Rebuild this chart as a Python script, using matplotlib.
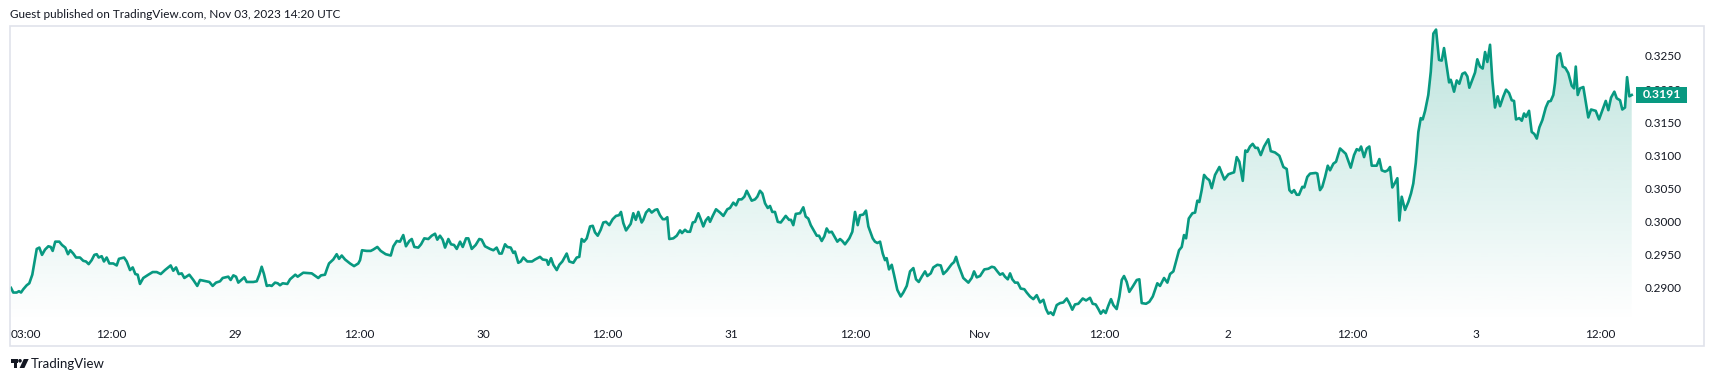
import numpy as np
import pandas as pd
import matplotlib
matplotlib.use("Agg")
import matplotlib.pyplot as plt
import matplotlib.dates as mdates
from matplotlib.patches import Rectangle, Polygon, Circle
from matplotlib.transforms import Affine2D, blended_transform_factory

plt.rcParams["font.family"] = ["Lato", "DejaVu Sans"]

# hours after 2023-10-28 00:00 UTC
hours = [
    2.34, 2.56, 2.89, 3.11, 3.31, 3.53, 3.86, 4.11, 4.40, 4.83,
    5.08, 5.34, 5.63, 5.95, 6.18, 6.37, 6.62, 7.01, 7.27, 7.59,
    7.85, 8.07, 8.36, 8.63, 9.01, 9.33, 9.59, 9.85, 10.14, 10.40,
    10.63, 10.82, 11.11, 11.33, 11.59, 11.85, 12.23, 12.56, 12.78, 13.27,
    13.53, 13.85, 14.11, 14.36, 14.59, 14.81, 15.13, 15.62, 16.04, 16.43,
    16.82, 17.23, 17.78, 18.03, 18.30, 18.56, 18.85, 19.10, 19.58, 19.97,
    20.35, 20.62, 20.93, 21.52, 21.84, 22.16, 22.55, 22.81, 23.35, 23.58,
    23.84, 24.10, 24.32, 24.90, 25.13, 25.77, 26.10, 26.35, 26.58, 26.80,
    27.07, 27.32, 27.55, 27.87, 28.13, 28.35, 28.61, 29.06, 29.32, 29.83,
    30.06, 30.60, 31.42, 32.05, 32.32, 32.70, 32.92,
    33.09, 33.50, 33.83, 34.06, 34.32, 34.64, 35.12, 35.51, 35.92, 36.09,
    36.28, 36.73, 37.12, 37.37, 37.76, 38.09, 38.57, 39.06, 39.31, 39.64,
    39.95, 40.27, 40.53, 40.85, 41.09, 41.34, 41.72, 41.99, 42.30, 42.69,
    43.02, 43.34, 43.56, 43.82, 44.08, 44.31, 44.63, 44.89, 45.18, 45.44,
    45.76, 46.02, 46.34, 46.56, 46.89, 47.27, 47.62, 47.85, 48.17, 48.66,
    48.98, 49.30, 49.56, 49.79, 50.11, 50.33, 50.66, 50.91, 51.07, 51.39,
    51.63, 51.88, 52.26, 52.72, 53.01, 53.49, 53.75, 54.14, 54.29, 54.56,
    54.78, 55.11, 55.36, 55.65, 56.07, 56.32, 56.71, 57.04, 57.29, 57.52,
    57.75, 58.01, 58.33, 58.59, 58.81, 59.07, 59.36, 59.61, 59.87, 60.19,
    60.52, 60.84, 61.13, 61.32, 61.55, 61.81, 62.26, 62.51, 62.75, 63.00,
    63.32, 63.48, 63.74, 64.03, 64.29, 64.61, 64.83, 65.09, 65.36, 65.58,
    65.80, 65.99, 66.38, 66.71, 67.03, 67.22, 67.51, 67.73, 68.00, 68.26,
    68.48, 68.80, 69.03, 69.28, 69.51, 69.77, 69.93, 70.19, 70.51, 70.90,
    71.22, 71.60, 71.86, 72.18, 72.44, 72.70, 72.99, 73.25, 73.48, 73.73,
    73.96, 74.28, 74.50, 74.76, 74.99, 75.25, 75.51, 75.73, 75.95, 76.21,
    76.48, 76.77, 77.25, 77.57, 77.76, 77.98, 78.22, 78.63, 78.95, 79.18,
    79.43, 79.67, 79.92, 80.25, 80.47, 80.73, 80.98, 81.21, 81.44, 81.70,
    81.95, 82.24, 82.50, 82.72, 82.98, 83.40, 83.69, 83.95, 84.21, 84.43,
    84.75, 85.01, 85.24, 85.66, 85.88, 86.11, 86.37, 86.63, 86.85, 87.01,
    87.24, 87.50, 87.72, 88.04, 88.37, 88.62, 88.95, 89.27, 89.59, 89.85,
    90.11, 90.40, 90.72, 90.94, 91.27, 91.52, 91.91, 92.24, 92.49, 92.82,
    93.30, 93.52, 93.72, 93.94,
    94.42, 94.91, 95.23, 95.46, 95.72, 96.04, 96.45, 96.84, 97.17, 97.42,
    97.71, 97.97, 98.23, 98.45, 98.72, 98.94, 99.16, 99.42, 99.68, 99.97,
    100.32, 100.55, 100.87, 101.19, 101.52, 101.84, 102.16, 102.42, 102.64, 102.87,
    103.12, 103.45, 103.77, 104.09, 104.42, 104.67, 104.96, 105.22, 105.54, 105.97,
    106.29, 106.67, 106.93, 107.22, 107.48, 107.71, 107.96, 108.19, 108.44, 108.70,
    108.93, 109.25, 109.51, 109.74, 109.96, 110.22, 110.47, 110.80, 111.19, 111.44,
    111.67, 112.09, 112.41, 112.74, 113.18, 113.44, 113.83, 114.15, 114.41, 114.73,
    114.99, 115.28, 115.54, 115.76, 115.96, 116.22, 116.57, 116.83, 117.05, 117.24,
    117.47, 117.70, 117.96, 118.21, 118.44, 118.76, 119.18, 119.66, 120.05, 120.60,
    120.86, 121.11, 121.44, 121.69, 121.88, 122.14, 122.40, 122.66, 122.89, 123.18,
    123.50, 123.91, 124.15, 124.56, 124.98,
    125.37, 125.69, 125.95, 126.18, 126.40, 126.66, 126.88, 127.20, 127.39, 127.68,
    127.95, 128.50, 128.65, 128.91, 129.13, 129.40, 129.66, 129.88, 130.20, 130.46,
    130.85, 131.40, 131.88, 132.20, 132.46, 132.71, 132.88, 133.17, 133.43, 133.68,
    133.91, 134.39, 134.65, 134.88, 135.20, 135.46, 135.68, 135.90, 136.16, 136.39,
    136.58, 136.81, 137.13, 137.45, 137.71, 137.93, 138.17, 138.42, 138.65, 138.84,
    139.07, 139.38, 139.62, 139.87, 140.13, 140.42, 140.68, 140.90, 141.16, 141.39,
    141.55, 141.65, 141.87, 142.13, 142.38, 142.67, 142.93, 143.16, 143.35, 143.64,
    143.90, 144.12, 144.38, 144.64, 144.87, 145.09, 145.35, 145.57, 145.83, 146.09,
    146.32, 146.64, 146.90, 147.19, 147.45, 147.67, 147.86, 148.18, 148.42, 148.64,
    148.83, 149.12, 149.38, 149.63, 149.87, 150.12, 150.41, 150.74, 150.99, 151.22,
    151.47, 151.63, 151.86, 152.12, 152.38, 152.63, 152.92, 153.25, 153.47, 153.64,
    153.83, 154.05, 154.37, 154.63, 154.85, 155.12, 155.57, 155.89, 156.21, 156.54,
    156.79, 157.05, 157.37, 157.60, 157.92, 158.14, 158.40, 158.60, 158.82, 159.05,
]

price = [
    0.2899, 0.2892, 0.2892, 0.2894, 0.2892, 0.2897, 0.2903, 0.2906, 0.2919, 0.2958,
    0.2960, 0.2949, 0.2957, 0.2962, 0.2961, 0.2955, 0.2969, 0.2969, 0.2964, 0.2960,
    0.2950, 0.2956, 0.2951, 0.2945, 0.2945, 0.2940, 0.2939, 0.2935, 0.2941, 0.2949,
    0.2950, 0.2945, 0.2947, 0.2939, 0.2945, 0.2936, 0.2936, 0.2933, 0.2943, 0.2945,
    0.2939, 0.2926, 0.2930, 0.2920, 0.2919, 0.2905, 0.2914, 0.2919, 0.2923, 0.2923,
    0.2920, 0.2926, 0.2933, 0.2925, 0.2930, 0.2920, 0.2921, 0.2914, 0.2919, 0.2911,
    0.2902, 0.2911, 0.2910, 0.2908, 0.2902, 0.2907, 0.2909, 0.2914, 0.2916, 0.2911,
    0.2918, 0.2916, 0.2907, 0.2915, 0.2908, 0.2908, 0.2909, 0.2919, 0.2931, 0.2920,
    0.2902, 0.2903, 0.2902, 0.2907, 0.2906, 0.2903, 0.2906, 0.2905, 0.2912, 0.2919,
    0.2916, 0.2922, 0.2921, 0.2914, 0.2918, 0.2919, 0.2929,
    0.2936, 0.2942, 0.2950, 0.2943, 0.2948, 0.2942, 0.2936, 0.2932, 0.2936, 0.2941,
    0.2956, 0.2955, 0.2955, 0.2957, 0.2961, 0.2955, 0.2950, 0.2948, 0.2962, 0.2970,
    0.2969, 0.2979, 0.2962, 0.2970, 0.2973, 0.2961, 0.2960, 0.2965, 0.2974, 0.2973,
    0.2978, 0.2981, 0.2972, 0.2978, 0.2972, 0.2960, 0.2973, 0.2965, 0.2964, 0.2958,
    0.2969, 0.2961, 0.2974, 0.2974, 0.2958, 0.2964, 0.2973, 0.2972, 0.2962, 0.2958,
    0.2956, 0.2960, 0.2951, 0.2951, 0.2965, 0.2961, 0.2960, 0.2952, 0.2954, 0.2937,
    0.2939, 0.2945, 0.2939, 0.2939, 0.2942, 0.2946, 0.2942, 0.2941, 0.2934, 0.2944,
    0.2934, 0.2926, 0.2934, 0.2939, 0.2951, 0.2939, 0.2937, 0.2945, 0.2946, 0.2973,
    0.2969, 0.2974, 0.2992, 0.2993, 0.2983, 0.2978, 0.2987, 0.2998, 0.2999, 0.2994,
    0.3003, 0.3008, 0.3009, 0.3014, 0.2997, 0.2986, 0.2996, 0.3012, 0.3002, 0.3014,
    0.2998, 0.3002, 0.3013, 0.3018, 0.3013, 0.3017, 0.3018, 0.3009, 0.3003, 0.3003,
    0.3006, 0.2973, 0.2974, 0.2978, 0.2986, 0.2982, 0.2987, 0.2984, 0.2984, 0.2998,
    0.2999, 0.3012, 0.3003, 0.2992, 0.3001, 0.3006, 0.2999, 0.3008, 0.3018, 0.3013,
    0.3008, 0.3018, 0.3020, 0.3028, 0.3024, 0.3033, 0.3033, 0.3037, 0.3046, 0.3038,
    0.3031, 0.3033, 0.3037, 0.3046, 0.3042, 0.3027, 0.3020, 0.3023, 0.3014, 0.3014,
    0.2999, 0.2998, 0.3008, 0.3002, 0.3002, 0.2994, 0.3011, 0.3012, 0.3021, 0.3007,
    0.3004, 0.2994, 0.2987, 0.2978, 0.2978, 0.2970, 0.2977, 0.2989, 0.2983, 0.2984,
    0.2977, 0.2969, 0.2973, 0.2970, 0.2965, 0.2974, 0.2984, 0.3014, 0.2994, 0.3009,
    0.3010, 0.3016, 0.2992, 0.2974, 0.2969, 0.2967, 0.2969, 0.2951, 0.2941, 0.2944,
    0.2927, 0.2934, 0.2919, 0.2896, 0.2886, 0.2892, 0.2902, 0.2924, 0.2929, 0.2912,
    0.2908, 0.2916, 0.2924, 0.2917, 0.2921, 0.2930, 0.2934, 0.2933, 0.2920, 0.2925,
    0.2935, 0.2938, 0.2946, 0.2934,
    0.2914, 0.2907, 0.2914, 0.2924, 0.2915, 0.2917, 0.2927, 0.2928, 0.2931, 0.2930,
    0.2924, 0.2919, 0.2921, 0.2916, 0.2912, 0.2921, 0.2912, 0.2907, 0.2907, 0.2898,
    0.2897, 0.2892, 0.2886, 0.2882, 0.2888, 0.2877, 0.2881, 0.2867, 0.2860, 0.2862,
    0.2858, 0.2873, 0.2876, 0.2877, 0.2883, 0.2876, 0.2866, 0.2874, 0.2875, 0.2883,
    0.2880, 0.2884, 0.2875, 0.2874, 0.2867, 0.2860, 0.2865, 0.2861, 0.2872, 0.2882,
    0.2873, 0.2867, 0.2886, 0.2911, 0.2917, 0.2908, 0.2893, 0.2901, 0.2911, 0.2912,
    0.2876, 0.2875, 0.2878, 0.2886, 0.2906, 0.2902, 0.2914, 0.2907, 0.2920, 0.2924,
    0.2939, 0.2956, 0.2961, 0.2979, 0.2974, 0.3004, 0.3012, 0.3013, 0.3031, 0.3029,
    0.3047, 0.3070, 0.3065, 0.3062, 0.3050, 0.3070, 0.3082, 0.3063, 0.3071, 0.3074,
    0.3097, 0.3090, 0.3061, 0.3107, 0.3105, 0.3113, 0.3117, 0.3111, 0.3111, 0.3100,
    0.3113, 0.3124, 0.3106, 0.3104, 0.3099,
    0.3082, 0.3079, 0.3047, 0.3043, 0.3047, 0.3040, 0.3040, 0.3052, 0.3051, 0.3067,
    0.3072, 0.3073, 0.3072, 0.3047, 0.3052, 0.3067, 0.3084, 0.3077, 0.3087, 0.3090,
    0.3110, 0.3102, 0.3081, 0.3100, 0.3109, 0.3107, 0.3113, 0.3097, 0.3110, 0.3113,
    0.3084, 0.3084, 0.3094, 0.3077, 0.3075, 0.3077, 0.3082, 0.3051, 0.3058, 0.3065,
    0.3001, 0.3037, 0.3017, 0.3029, 0.3042, 0.3057, 0.3088, 0.3135, 0.3156, 0.3154,
    0.3167, 0.3191, 0.3226, 0.3284, 0.3290, 0.3244, 0.3243, 0.3262, 0.3234, 0.3210,
    0.3214, 0.3209, 0.3196, 0.3213, 0.3208, 0.3223, 0.3225, 0.3219, 0.3202, 0.3214,
    0.3225, 0.3245, 0.3234, 0.3231, 0.3256, 0.3241, 0.3267, 0.3214, 0.3172, 0.3189,
    0.3174, 0.3189, 0.3199, 0.3194, 0.3183, 0.3182, 0.3154, 0.3156, 0.3152, 0.3163,
    0.3158, 0.3167, 0.3135, 0.3132, 0.3125, 0.3142, 0.3153, 0.3172, 0.3181, 0.3182,
    0.3191, 0.3209, 0.3250, 0.3254, 0.3234, 0.3232, 0.3224, 0.3205, 0.3201, 0.3234,
    0.3191, 0.3201, 0.3203, 0.3178, 0.3157, 0.3169, 0.3167, 0.3154, 0.3168, 0.3182,
    0.3168, 0.3187, 0.3196, 0.3186, 0.3183, 0.3169, 0.3172, 0.3218, 0.3189, 0.3191,
]

start = pd.Timestamp("2023-10-28 00:00")
tick_times = ["2023-10-28 12:00", "2023-10-29 00:00", "2023-10-29 12:00",
              "2023-10-30 00:00", "2023-10-30 12:00", "2023-10-31 00:00",
              "2023-10-31 12:00", "2023-11-01 00:00", "2023-11-01 12:00",
              "2023-11-02 00:00", "2023-11-02 12:00", "2023-11-03 00:00",
              "2023-11-03 12:00"]
tick_labels = ["12:00", "29", "12:00", "30", "12:00", "31", "12:00",
               "Nov", "12:00", "2", "12:00", "3", "12:00"]
first_label = "03:00"
price_ticks = [0.2900, 0.2950, 0.3000, 0.3050, 0.3100, 0.3150, 0.3200, 0.3250]
last_price = 0.3191
title = "Guest published on TradingView.com, Nov 03, 2023 14:20 UTC"

teal = "#089981"
txt = "#131722"
W, H = 1714, 382

t = start + pd.to_timedelta(hours, unit="h")
x = mdates.date2num(t)
x_lo = mdates.date2num(start + pd.Timedelta(hours=2.244))
x_hi = mdates.date2num(start + pd.Timedelta(hours=159.27))
y_lo, y_hi = 0.28474, 0.32954

fig = plt.figure(figsize=(W / 100, H / 100), dpi=100)
fig.patch.set_facecolor("white")
# pixel coords, y downward
px = Affine2D().scale(1 / W, -1 / H).translate(0, 1) + fig.transFigure

ax = fig.add_axes([10 / W, 1 - 322 / H, 1624 / W, 296 / H])

# gradient area under the line
grad = np.zeros((256, 1, 4))
grad[:, 0, :3] = matplotlib.colors.to_rgb(teal)
grad[:, 0, 3] = np.linspace(0.27, 0.0, 256)
im = ax.imshow(grad, extent=(x_lo, x_hi, y_lo, y_hi), origin="upper",
               aspect="auto", interpolation="bilinear", zorder=1)
verts = [(x[0], y_lo)] + list(zip(x, price)) + [(x[-1], y_lo)]
area = Polygon(verts, closed=True, facecolor="none", edgecolor="none")
ax.add_patch(area)
im.set_clip_path(area)

ax.plot(x, price, color=teal, lw=1.9, solid_joinstyle="round", zorder=3)

ax.set_xlim(x_lo, x_hi)
ax.set_ylim(y_lo, y_hi)
for s in ax.spines.values():
    s.set_visible(False)

ax.yaxis.tick_right()
ax.set_yticks(price_ticks)
ax.set_yticklabels([f"{v:.4f}" for v in price_ticks])
ax.tick_params(axis="y", length=0, pad=8, labelsize=8.5, labelcolor=txt)

ax.set_xticks(mdates.date2num(pd.to_datetime(tick_times)))
ax.set_xticklabels(tick_labels)
ax.tick_params(axis="x", length=0, pad=5, labelsize=8.5, labelcolor=txt)
ax.annotate(first_label, xy=(0, 0), xycoords="axes fraction",
            xytext=(0.5, -5), textcoords="offset points",
            ha="left", va="top", fontsize=8.5, color=txt)

# last price marker on the price scale
bt = blended_transform_factory(ax.transAxes, ax.transData)
box_h = 16 * (y_hi - y_lo) / 296
ax.add_patch(Rectangle((1626 / 1624, last_price - box_h / 2), 51 / 1624, box_h,
                       transform=bt, facecolor=teal, edgecolor="none",
                       clip_on=False, zorder=5))
ax.text((1626 + 25.5) / 1624, last_price, f"{last_price:.4f}", transform=bt,
        ha="center", va="center", fontsize=8.8, fontweight="bold",
        color="white", clip_on=False, zorder=6)

# outer frame
fig.add_artist(Rectangle((10, 26), 1694, 320, transform=px, fill=False,
                         edgecolor="#e0e3eb", lw=1.2))

fig.text(10 / W, 1 - 14 / H, title, ha="left", va="center",
         fontsize=8.5, color=txt)

# TradingView logo + name
fig.add_artist(Rectangle((10.7, 359), 7, 3.5, transform=px, facecolor=txt, edgecolor="none"))
fig.add_artist(Rectangle((14.0, 359), 3.5, 9, transform=px, facecolor=txt, edgecolor="none"))
fig.add_artist(Circle((20.0, 360.8), 1.8, transform=px, facecolor=txt, edgecolor="none"))
fig.add_artist(Polygon([(23.8, 359), (28.7, 359), (24.4, 368), (19.6, 368)],
                       closed=True, transform=px, facecolor=txt, edgecolor="none"))
fig.text(31 / W, 1 - 364 / H, "TradingView", ha="left", va="center",
         fontsize=9.5, color=txt)

fig.savefig("out.png", dpi=100, facecolor="white")
